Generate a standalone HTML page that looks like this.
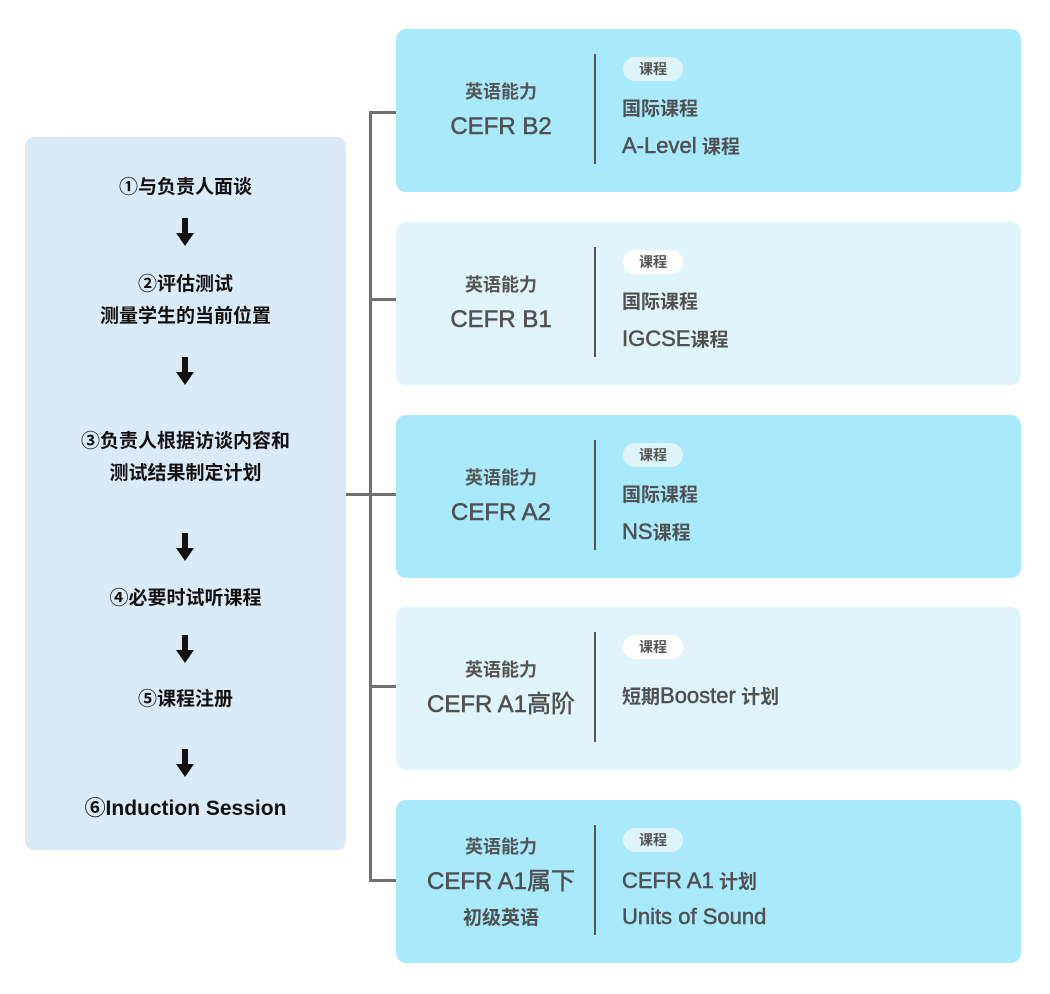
<!DOCTYPE html>
<html><head><meta charset="utf-8"><style>
body{margin:0;width:1050px;height:994px;background:#fff;position:relative;font-family:"Liberation Sans","Noto Sans CJK SC",sans-serif;overflow:hidden}
.a{position:absolute}
.left{left:25px;top:137px;width:321px;height:713px;background:#dbeaf7;border-radius:9px}
.st{position:absolute;left:25px;width:321px;text-align:center;font-weight:bold;font-size:19px;color:#111;line-height:32px}
.arr{position:absolute;left:176px;width:18px;height:28px}
.card{position:absolute;left:396px;width:625px;height:163px;border-radius:10px}
.dk{background:#a8eafc}.lt{background:#dff4fb}
.lc{position:absolute;left:0;width:210px;text-align:center;color:#555;font-weight:bold}
.h{font-size:18px}
.c{font-size:24px;font-weight:normal;color:#505050;line-height:35px;-webkit-text-stroke:0.5px #505050}
.div{position:absolute;left:198px;top:25px;width:1.5px;height:110px;background:#555}
.pill{position:absolute;left:227px;top:28px;width:60px;height:24px;border-radius:12px;background:#dff4fb;color:#555;font-size:14px;font-weight:bold;text-align:center;line-height:24px}
.lt .pill{background:#fff}
.r{position:absolute;left:226px;font-size:19px;color:#505050;font-weight:bold;line-height:36px}
.l{font-weight:normal;font-size:22px;-webkit-text-stroke:0.5px #505050}
.ln{position:absolute;background:#707070}
</style></head><body>
<div class="a left"></div>
<div class="st" style="top:172px">①与负责人面谈</div>
<div class="st" style="top:269px">②评估测试<br>测量学生的当前位置</div>
<div class="st" style="top:426px">③负责人根据访谈内容和<br>测试结果制定计划</div>
<div class="st" style="top:583px">④必要时试听课程</div>
<div class="st" style="top:684px">⑤课程注册</div>
<div class="st" style="top:793px;font-size:21px">⑥Induction Session</div>
<svg class="arr" style="top:218px" viewBox="0 0 18 28"><rect x="6" y="0" width="6" height="16" fill="#111"/><polygon points="0,15 18,15 9,28" fill="#111"/></svg>
<svg class="arr" style="top:357px" viewBox="0 0 18 28"><rect x="6" y="0" width="6" height="16" fill="#111"/><polygon points="0,15 18,15 9,28" fill="#111"/></svg>
<svg class="arr" style="top:533px" viewBox="0 0 18 28"><rect x="6" y="0" width="6" height="16" fill="#111"/><polygon points="0,15 18,15 9,28" fill="#111"/></svg>
<svg class="arr" style="top:635px" viewBox="0 0 18 28"><rect x="6" y="0" width="6" height="16" fill="#111"/><polygon points="0,15 18,15 9,28" fill="#111"/></svg>
<svg class="arr" style="top:749px" viewBox="0 0 18 28"><rect x="6" y="0" width="6" height="16" fill="#111"/><polygon points="0,15 18,15 9,28" fill="#111"/></svg>

<div class="ln" style="left:369px;top:111px;width:3px;height:771px"></div>
<div class="ln" style="left:346px;top:493px;width:25px;height:3px"></div>
<div class="ln" style="left:369px;top:111px;width:27px;height:3px"></div>
<div class="ln" style="left:369px;top:298px;width:27px;height:3px"></div>
<div class="ln" style="left:369px;top:493px;width:27px;height:3px"></div>
<div class="ln" style="left:369px;top:685px;width:27px;height:3px"></div>
<div class="ln" style="left:369px;top:879px;width:27px;height:3px"></div>

<div class="card dk" style="top:29px"><div class="lc h" style="top:49px">英语能力</div><div class="lc c" style="top:80px">CEFR B2</div><div class="div"></div><div class="pill">课程</div><div class="r" style="top:63px">国际课程</div><div class="r" style="top:99px"><span class="l">A-Level</span> 课程</div></div>
<div class="card lt" style="top:222px"><div class="lc h" style="top:49px">英语能力</div><div class="lc c" style="top:80px">CEFR B1</div><div class="div"></div><div class="pill">课程</div><div class="r" style="top:63px">国际课程</div><div class="r" style="top:99px"><span class="l">IGCSE</span>课程</div></div>
<div class="card dk" style="top:415px"><div class="lc h" style="top:49px">英语能力</div><div class="lc c" style="top:80px">CEFR A2</div><div class="div"></div><div class="pill">课程</div><div class="r" style="top:63px">国际课程</div><div class="r" style="top:99px"><span class="l">NS</span>课程</div></div>
<div class="card lt" style="top:607px"><div class="lc h" style="top:49px">英语能力</div><div class="lc c" style="top:80px">CEFR A1高阶</div><div class="div"></div><div class="pill">课程</div><div class="r" style="top:71px">短期<span class="l">Booster</span> 计划</div></div>
<div class="card dk" style="top:800px"><div class="lc h" style="top:33px">英语能力</div><div class="lc c" style="top:64px">CEFR A1属下<br><span style="font-size:19px;font-weight:bold;-webkit-text-stroke:0">初级英语</span></div><div class="div"></div><div class="pill">课程</div><div class="r" style="top:63px"><span class="l">CEFR A1</span> 计划</div><div class="r" style="top:99px"><span class="l">Units of Sound</span></div></div>
</body></html>
